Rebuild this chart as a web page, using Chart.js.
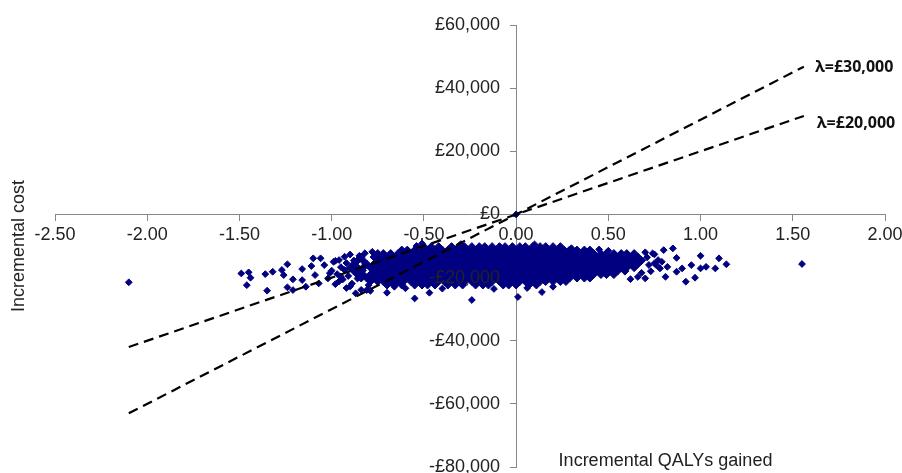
<!DOCTYPE html>
<html>
<head>
<meta charset="utf-8">
<title>Cost-effectiveness plane</title>
<script src="https://cdn.jsdelivr.net/npm/chart.js@4/dist/chart.umd.min.js"></script>
<style>
  html, body { margin: 0; padding: 0; background: #fff; }
  #plane { display: block; }
</style>
</head>
<body>
<canvas id="plane" width="902" height="473"></canvas>
<script>
// Axis ticks
const qalyTicks = [-2.5, -2, -1.5, -1, -0.5, 0, 0.5, 1, 1.5, 2];
const qalyTickLabels = ['-2.50', '-2.00', '-1.50', '-1.00', '-0.50', '0.00', '0.50', '1.00', '1.50', '2.00'];
const costTicks = [-80000, -60000, -40000, -20000, 0, 20000, 40000, 60000];
const costTickLabels = ['-£80,000', '-£60,000', '-£40,000', '-£20,000', '£0', '£20,000', '£40,000', '£60,000'];

// Willingness-to-pay thresholds and the QALY range they are drawn over
const thresholds = [30000, 20000];
const thresholdLabels = ['λ=£30,000', 'λ=£20,000'];
const thresholdQaly = [-2.1, 1.56];
const labelQaly = [1.62, 1.63];
const labelCost = [46600, 28900];

// Simulated incremental costs/QALYs, main cloud: one cost level per row
const costRows = [-10200, -11300, -12400, -13500, -14600, -15700, -16850, -17950, -19050, -20150, -21250, -22350];
const qalyRows = [
  [-0.50, -0.46, -0.42, -0.35, -0.31, -0.28, -0.24, -0.20, -0.17, -0.13, -0.09, -0.06, -0.02, 0.02, 0.05, 0.09, 0.13, 0.16, 0.20, 0.24],
  [-0.62, -0.59, -0.55, -0.51, -0.48, -0.44, -0.40, -0.37, -0.33, -0.29, -0.26, -0.22, -0.18, -0.15, -0.11, -0.07, -0.04, 0.00, 0.04, 0.07, 0.11, 0.15, 0.18, 0.22, 0.26, 0.29, 0.33, 0.37, 0.40],
  [-0.75, -0.72, -0.68, -0.64, -0.61, -0.57, -0.53, -0.50, -0.46, -0.42, -0.39, -0.35, -0.31, -0.28, -0.24, -0.20, -0.17, -0.13, -0.09, -0.06, -0.02, 0.02, 0.05, 0.09, 0.13, 0.16, 0.20, 0.24, 0.27, 0.31, 0.35, 0.38, 0.42, 0.46, 0.49, 0.53, 0.57, 0.60, 0.64],
  [-0.84, -0.77, -0.73, -0.70, -0.66, -0.62, -0.59, -0.55, -0.51, -0.48, -0.44, -0.40, -0.37, -0.33, -0.29, -0.26, -0.22, -0.18, -0.15, -0.11, -0.07, -0.04, 0.00, 0.04, 0.07, 0.11, 0.15, 0.18, 0.22, 0.26, 0.29, 0.33, 0.37, 0.40, 0.44, 0.48, 0.51, 0.55, 0.59, 0.62, 0.66],
  [-0.86, -0.83, -0.75, -0.72, -0.68, -0.64, -0.61, -0.57, -0.53, -0.50, -0.46, -0.42, -0.39, -0.35, -0.31, -0.28, -0.24, -0.20, -0.17, -0.13, -0.09, -0.06, -0.02, 0.02, 0.05, 0.09, 0.13, 0.16, 0.20, 0.24, 0.27, 0.31, 0.35, 0.38, 0.42, 0.46, 0.49, 0.53, 0.57, 0.60, 0.64, 0.68],
  [-0.88, -0.81, -0.77, -0.73, -0.70, -0.66, -0.62, -0.59, -0.55, -0.51, -0.48, -0.44, -0.40, -0.37, -0.33, -0.29, -0.26, -0.22, -0.18, -0.15, -0.11, -0.07, -0.04, 0.00, 0.04, 0.07, 0.11, 0.15, 0.18, 0.22, 0.26, 0.29, 0.33, 0.37, 0.40, 0.44, 0.48, 0.51, 0.55, 0.59, 0.62, 0.66],
  [-0.90, -0.86, -0.83, -0.79, -0.75, -0.72, -0.68, -0.64, -0.61, -0.57, -0.53, -0.50, -0.46, -0.42, -0.39, -0.35, -0.31, -0.28, -0.24, -0.20, -0.17, -0.13, -0.09, -0.06, -0.02, 0.02, 0.05, 0.09, 0.13, 0.16, 0.20, 0.24, 0.27, 0.31, 0.35, 0.38, 0.42, 0.46, 0.49, 0.53, 0.57, 0.60, 0.64],
  [-0.88, -0.84, -0.77, -0.73, -0.70, -0.66, -0.62, -0.59, -0.55, -0.51, -0.48, -0.44, -0.40, -0.37, -0.33, -0.29, -0.26, -0.22, -0.18, -0.15, -0.11, -0.07, -0.04, 0.00, 0.04, 0.07, 0.11, 0.15, 0.18, 0.22, 0.26, 0.29, 0.33, 0.37, 0.40, 0.44, 0.48, 0.51, 0.55, 0.59],
  [-0.86, -0.83, -0.79, -0.75, -0.72, -0.68, -0.64, -0.61, -0.57, -0.53, -0.50, -0.46, -0.42, -0.39, -0.35, -0.31, -0.28, -0.24, -0.20, -0.17, -0.13, -0.09, -0.06, -0.02, 0.02, 0.05, 0.09, 0.13, 0.16, 0.20, 0.24, 0.27, 0.31, 0.35, 0.38, 0.42, 0.46, 0.49, 0.53],
  [-0.84, -0.81, -0.77, -0.73, -0.70, -0.66, -0.62, -0.59, -0.55, -0.51, -0.48, -0.44, -0.40, -0.37, -0.33, -0.29, -0.26, -0.22, -0.18, -0.15, -0.11, -0.07, -0.04, 0.00, 0.04, 0.07, 0.11, 0.15, 0.18, 0.22, 0.26, 0.29, 0.33, 0.37, 0.40],
  [-0.79, -0.75, -0.72, -0.68, -0.64, -0.61, -0.57, -0.53, -0.50, -0.46, -0.42, -0.39, -0.35, -0.31, -0.28, -0.24, -0.20, -0.17, -0.13, -0.09, -0.06, -0.02, 0.02, 0.05, 0.09, 0.13, 0.16, 0.20, 0.24, 0.27],
  [-0.70, -0.66, -0.62, -0.55, -0.51, -0.48, -0.44, -0.37, -0.33, -0.29, -0.22, -0.18, -0.15, -0.07, -0.04, 0.00, 0.07, 0.11]
];

// Simulations outside the main cloud (tails, edges and outliers)
const extraQaly = [
  -2.10, 1.55, 0.00,
  -1.49, -1.45, -1.44, -1.46, -1.36, -1.32, -1.35, -1.27, -1.24, -1.26, -1.21, -1.24, -1.21,
  -1.16, -1.16, -1.11, -1.10, -1.06, -1.14, -1.07, -1.09, -1.04, -0.99, -1.02, -0.96,
  -1.00, -0.98, -0.97, -0.95, -0.94, -0.93, -0.92, -0.91, -0.90, -0.89, -0.87, -0.81, -0.78, -0.70, -0.66,
  -1.01, -0.98, -0.96, -0.95, -0.93, -0.92, -0.90, -0.88, -0.86, -0.85, -0.84, -0.83, -0.82, -0.80, -0.79,
  -0.55, -0.47, -0.24, 0.01, 0.14, 0.06, -0.40, -0.12, 0.20, -0.60,
  -0.51, -0.54, -0.30, 0.10, 0.30, 0.45, 0.50,
  0.70, 0.75, 0.74, 0.77, 0.75, 0.78, 0.68, 0.72, 0.70, 0.73, 0.71, 0.66, 0.62,
  0.80, 0.85, 0.87, 0.79, 0.76, 0.82, 0.87, 0.81, 0.90, 0.92, 0.97, 0.95, 1.00, 1.00, 1.03, 1.08, 1.10, 1.14
];
const extraCost = [
  -21500, -15700, 0,
  -18700, -18350, -20050, -22400, -18900, -18150, -24150, -17600, -15800, -19200, -20550, -23100, -23950,
  -17300, -20800, -16350, -13900, -13900, -22900, -21850, -19200, -16050, -15000, -20250, -14450,
  -17800, -22100, -18900, -16700, -20600, -13400, -23300, -19500, -12700, -21900, -25000, -23950, -11850, -24800, -22900,
  -18600, -14700, -21200, -19700, -17600, -15400, -22800, -14600, -20300, -13100, -23900, -17700, -12300, -22400, -24200,
  -26600, -24800, -27100, -26150, -24600, -23300, -23500, -23600, -22900, -23400,
  -9200, -10000, -9400, -9500, -10700, -11100, -11500,
  -12000, -12650, -12350, -14450, -15500, -17100, -18500, -16000, -20250, -18000, -13600, -19800, -20500,
  -11300, -10750, -13750, -15000, -16050, -16600, -18150, -19750, -17100, -21300, -20050, -16050, -13100, -17100, -16600, -17100, -13900, -15800
];

const cloudPoints = [];
costRows.forEach((cost, r) => {
  qalyRows[r].forEach(q => cloudPoints.push({x: q, y: cost}));
});
const loosePoints = extraQaly.map((q, i) => ({x: q, y: extraCost[i]}));

const FONT = "'Liberation Sans', Arial, sans-serif";
const TEXT = '#222';
const AXIS = '#878787';
const NAVY = '#000080';

// Threshold lines, cost = lambda * QALYs
const thresholdSets = thresholds.map(lambda => ({
  data: thresholdQaly.map(q => ({x: q, y: lambda * q})),
  showLine: true,
  borderColor: '#000',
  borderWidth: 2.2,
  borderDash: [10, 6],
  pointRadius: 0,
  fill: false
}));

const diamonds = (data, r) => ({
  data: data,
  pointStyle: 'rectRot',
  pointRadius: r,
  pointBorderWidth: 1,
  backgroundColor: NAVY,
  borderColor: NAVY
});

// Axes cross in the middle, so the edge labels must not shrink the plot area
const noEdgePadding = scale => {
  scale.paddingLeft = 0;
  scale.paddingRight = 0;
  scale.paddingTop = 0;
  scale.paddingBottom = 0;
};

// Cost tick labels sit left of the crossing y axis, above the points
const costLabelPlugin = {
  id: 'costLabels',
  afterDatasetsDraw(chart) {
    const {ctx, scales: {x, y}} = chart;
    const axisX = x.getPixelForValue(0);
    ctx.save();
    ctx.fillStyle = TEXT;
    ctx.font = '18px ' + FONT;
    ctx.textAlign = 'right';
    ctx.textBaseline = 'middle';
    costTicks.forEach((v, i) => {
      ctx.fillText(costTickLabels[i], axisX - 16, y.getPixelForValue(v));
    });
    ctx.restore();
  }
};

// Axis titles and threshold labels
const textPlugin = {
  id: 'planeText',
  afterDraw(chart) {
    const {ctx, chartArea, scales: {x, y}} = chart;
    ctx.save();
    ctx.fillStyle = TEXT;
    ctx.font = '18px ' + FONT;
    ctx.textAlign = 'center';
    ctx.textBaseline = 'middle';
    ctx.fillText('Incremental QALYs gained', x.getPixelForValue(0.81), y.getPixelForValue(-78000));
    ctx.save();
    ctx.translate(19, (chartArea.top + chartArea.bottom) / 2);
    ctx.rotate(-Math.PI / 2);
    ctx.fillText('Incremental cost', 0, 0);
    ctx.restore();
    ctx.font = "bold 16px 'Open Sans', " + FONT;
    ctx.fillStyle = '#111';
    ctx.textAlign = 'left';
    thresholdLabels.forEach((txt, i) => {
      ctx.fillText(txt, x.getPixelForValue(labelQaly[i]), y.getPixelForValue(labelCost[i]));
    });
    ctx.restore();
  }
};

new Chart(document.getElementById('plane'), {
  type: 'scatter',
  data: {
    datasets: thresholdSets.concat([diamonds(loosePoints, 3.4), diamonds(cloudPoints, 4)])
  },
  options: {
    responsive: false,
    animation: false,
    events: [],
    layout: {padding: {left: 55, right: 17, top: 25, bottom: 6}},
    plugins: {legend: {display: false}, tooltip: {enabled: false}},
    scales: {
      x: {
        type: 'linear',
        position: {y: 0},
        min: -2.5,
        max: 2,
        afterBuildTicks: scale => { scale.ticks = qalyTicks.map(v => ({value: v})); },
        afterFit: noEdgePadding,
        ticks: {
          callback: (v, i) => qalyTickLabels[i],
          autoSkip: false,
          maxRotation: 0,
          padding: 4,
          color: TEXT,
          z: 1,
          font: {family: FONT, size: 18}
        },
        grid: {drawOnChartArea: false, drawTicks: true, tickLength: 6, color: AXIS},
        border: {display: true, color: AXIS, width: 1}
      },
      y: {
        type: 'linear',
        position: {x: 0},
        min: -80000,
        max: 60000,
        afterBuildTicks: scale => { scale.ticks = costTicks.map(v => ({value: v})); },
        afterFit: noEdgePadding,
        ticks: {display: false},
        grid: {drawOnChartArea: false, drawTicks: true, tickLength: 6, color: AXIS},
        border: {display: true, color: AXIS, width: 1}
      }
    }
  },
  plugins: [costLabelPlugin, textPlugin]
});
</script>
</body>
</html>
